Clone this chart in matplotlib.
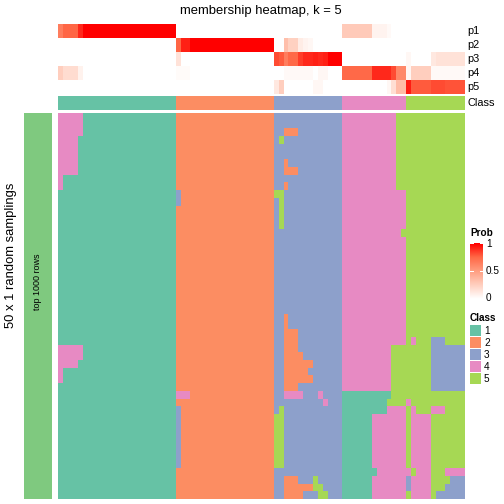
import numpy as np
import matplotlib.pyplot as plt
from matplotlib.colors import ListedColormap, LinearSegmentedColormap

plt.rcParams['font.family'] = ['Liberation Sans', 'DejaVu Sans']

# number of samples in each consensus class (columns)
class_sizes = [24, 20, 14, 13, 12]
class_names = ['1', '2', '3', '4', '5']
class_colors = ['#66C2A5', '#FC8D62', '#8DA0CB', '#E78AC3', '#A6D854']
n_samplings = 50
row_names = ['p1', 'p2', 'p3', 'p4', 'p5']

# membership probabilities: (first column, last column, prob), rest is 0
p1 = [(0, 0, 0.65), (1, 3, 0.75), (4, 4, 0.9), (5, 23, 1.0),
      (58, 63, 0.27), (64, 66, 0.06), (67, 67, 0.03)]
p2 = [(24, 24, 0.75), (25, 26, 0.92), (27, 43, 1.0),
      (46, 46, 0.33), (47, 48, 0.24), (49, 49, 0.1), (50, 50, 0.06), (51, 51, 0.04)]
p3 = [(24, 24, 0.15), (44, 44, 0.82), (45, 45, 0.78), (46, 46, 0.65), (47, 48, 0.74),
      (49, 49, 0.85), (50, 51, 0.9), (52, 52, 0.92), (53, 53, 0.9), (54, 54, 0.92),
      (55, 57, 1.0), (71, 71, 0.04), (76, 76, 0.12), (77, 82, 0.15)]
p4 = [(0, 0, 0.25), (1, 3, 0.18), (4, 4, 0.07), (24, 26, 0.02),
      (46, 51, 0.03), (53, 54, 0.04), (58, 63, 0.74), (64, 67, 0.9),
      (68, 68, 0.82), (69, 70, 0.6), (71, 71, 0.05), (72, 75, 0.25), (76, 82, 0.03)]
p5 = [(44, 44, 0.12), (45, 45, 0.25), (52, 53, 0.04), (67, 67, 0.04),
      (68, 68, 0.17), (69, 70, 0.35), (71, 71, 0.93), (72, 75, 0.78),
      (76, 78, 0.82), (79, 82, 0.8)]

# class in each random sampling that differs from the consensus class:
# (first row, last row, first column, last column, class)
changes = [
    (0, 2, 0, 4, 4), (3, 7, 0, 3, 4), (8, 9, 0, 0, 4), (30, 31, 0, 4, 4),
    (32, 32, 0, 3, 4), (33, 34, 0, 0, 4),
    (10, 11, 24, 24, 3), (36, 36, 24, 26, 4), (38, 45, 24, 24, 3),
    (2, 2, 46, 48, 2), (3, 3, 45, 45, 5), (6, 6, 46, 46, 2), (7, 7, 46, 48, 2),
    (9, 9, 46, 46, 2), (10, 10, 44, 45, 5), (11, 14, 45, 45, 5),
    (26, 27, 46, 46, 2), (28, 30, 46, 48, 2), (31, 31, 46, 49, 2),
    (32, 32, 46, 51, 2), (33, 33, 46, 50, 2), (34, 34, 46, 51, 2),
    (35, 35, 46, 48, 2), (36, 36, 46, 49, 4), (36, 36, 53, 53, 4),
    (37, 37, 54, 54, 4), (38, 38, 45, 45, 5), (39, 45, 44, 45, 5),
    (47, 47, 46, 48, 2), (47, 47, 52, 52, 5), (48, 48, 46, 51, 2),
    (48, 48, 52, 53, 5), (49, 49, 46, 49, 2), (49, 49, 53, 54, 5),
    (0, 9, 69, 70, 5), (15, 15, 70, 70, 5), (29, 29, 72, 72, 4),
    (29, 29, 76, 78, 3), (30, 35, 68, 70, 5), (30, 35, 76, 82, 3),
    (36, 49, 58, 63, 1), (36, 36, 64, 67, 1), (37, 38, 64, 66, 1),
    (46, 46, 64, 64, 1), (36, 36, 68, 70, 5), (37, 37, 67, 70, 5),
    (37, 37, 71, 71, 4), (38, 38, 72, 72, 4), (38, 38, 76, 78, 4),
    (39, 45, 72, 75, 4), (46, 46, 71, 71, 4), (46, 46, 73, 75, 4),
    (46, 46, 79, 82, 4), (47, 49, 72, 75, 4), (47, 48, 71, 71, 3),
    (47, 47, 80, 82, 3), (48, 48, 79, 82, 3), (49, 49, 77, 82, 3),
]

col_class = np.repeat(np.arange(1, 6), class_sizes)
n_col = len(col_class)
samplings = np.tile(col_class, (n_samplings, 1))
for r0, r1, c0, c1, k in changes:
    samplings[r0:r1 + 1, c0:c1 + 1] = k

prob = np.zeros((5, n_col))
for i, segs in enumerate([p1, p2, p3, p4, p5]):
    for c0, c1, v in segs:
        prob[i, c0:c1 + 1] = v

prob_cmap = LinearSegmentedColormap.from_list(
    'prob', [(0, '#FFFFFF'), (0.25, '#FFCFBF'), (0.5, '#FF9E81'),
             (0.75, '#FF6846'), (1, '#FF0000')])
class_cmap = ListedColormap(class_colors)

W = H = 504
fig = plt.figure(figsize=(7, 7), dpi=72)


def px_axes(x0, y0, x1, y1):
    ax = fig.add_axes([x0 / W, 1 - y1 / H, (x1 - x0) / W, (y1 - y0) / H])
    ax.set_axis_off()
    return ax


# membership heatmap
ax = px_axes(58, 24, 465, 94)
ax.imshow(prob, cmap=prob_cmap, vmin=0, vmax=1, aspect='auto', interpolation='nearest')
for i, name in enumerate(row_names):
    fig.text(467 / W, 1 - (31 + 14 * i) / H, name, fontsize=11, va='center', ha='left')

# class annotation
ax = px_axes(58, 96, 465, 110)
ax.imshow(col_class[None, :], cmap=class_cmap, vmin=0.5, vmax=5.5, aspect='auto',
          interpolation='nearest')
fig.text(467 / W, 1 - 103 / H, 'Class', fontsize=11, va='center', ha='left')

# random samplings
ax = px_axes(58, 113, 465, 499)
ax.imshow(samplings, cmap=class_cmap, vmin=0.5, vmax=5.5, aspect='auto',
          interpolation='nearest')

# left annotation
ax = px_axes(24, 113, 52, 499)
ax.set_facecolor('#7FC97F')
ax.axis('on')
ax.set_xticks([])
ax.set_yticks([])
for s in ax.spines.values():
    s.set_visible(False)
fig.text(38 / W, 1 - 282 / H, 'top 1000 rows', rotation=90, fontsize=9,
         ha='center', va='center')

fig.text(11 / W, 1 - 255 / H, '50 x 1 random samplings', rotation=90, fontsize=13,
         ha='center', va='center')

fig.text(261 / W, 1 - 11 / H, 'membership heatmap, k = 5', fontsize=13,
         ha='center', va='center')

# legends
fig.text(470 / W, 1 - 233 / H, 'Prob', fontsize=10, fontweight='bold', va='center')
ax = px_axes(470, 243, 483, 299)
ax.imshow(np.linspace(1, 0, 100)[:, None], cmap=prob_cmap, vmin=0, vmax=1,
          aspect='auto', extent=[0, 1, 0, 1])
for v in [0.5, 1.0]:
    ax.plot([0, 0.2], [v, v], color='white', lw=1)
    ax.plot([0.8, 1], [v, v], color='white', lw=1)
ax.set_xlim(0, 1)
ax.set_ylim(0, 1)
for v, lab in zip([1, 0.5, 0], ['1', '0.5', '0']):
    fig.text(486 / W, 1 - (244 + (1 - v) * 54) / H, lab, fontsize=10, va='center')

fig.text(470 / W, 1 - 318 / H, 'Class', fontsize=10, fontweight='bold', va='center')
for i, (name, col) in enumerate(zip(class_names, class_colors)):
    y0 = 325 + 12 * i
    ax = px_axes(470, y0, 481, y0 + 11)
    ax.axis('on')
    ax.set_facecolor(col)
    ax.set_xticks([])
    ax.set_yticks([])
    for s in ax.spines.values():
        s.set_visible(False)
    fig.text(484 / W, 1 - (y0 + 6) / H, name, fontsize=10, va='center')

fig.savefig('out.png', dpi=72)
